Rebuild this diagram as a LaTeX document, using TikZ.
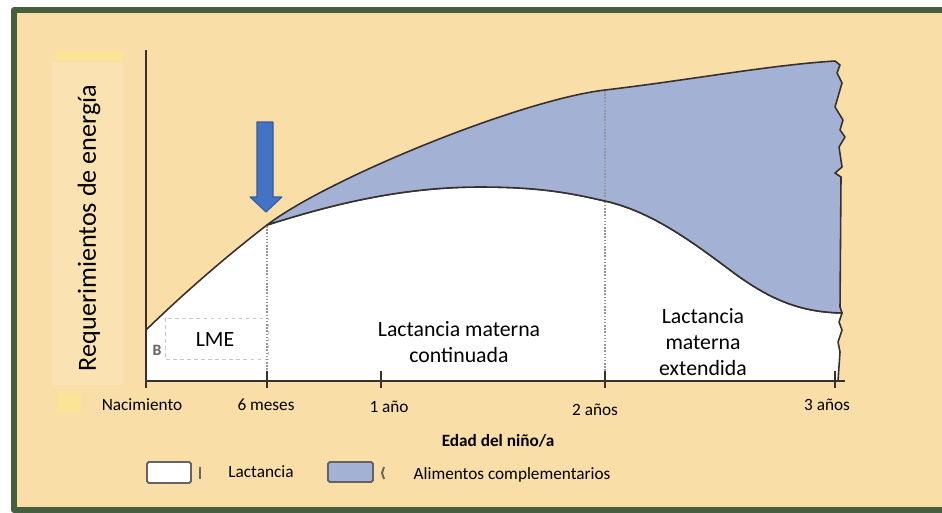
\documentclass[tikz,border=0pt]{standalone}
\usepackage{fontspec}
\setmainfont{Carlito}
\usepackage{xcolor}
\usetikzlibrary{calc}

\definecolor{fondo}{RGB}{250,222,168}
\definecolor{franja}{RGB}{251,226,178}
\definecolor{amarillo}{RGB}{252,228,150}
\definecolor{marco}{RGB}{70,95,62}
\definecolor{azulrelleno}{RGB}{163,178,212}
\definecolor{azulflecha}{RGB}{68,114,196}
\definecolor{bordeflecha}{RGB}{50,90,160}
\definecolor{ejes}{RGB}{55,48,45}
\definecolor{puntos}{RGB}{150,150,150}
\definecolor{gris}{RGB}{100,100,100}

\begin{document}
\begin{tikzpicture}[x=0.02cm, y=-0.02cm, inner sep=0pt, line join=round,
	eje/.style={draw=ejes, line width=1.4pt},
	curva/.style={draw=ejes, line width=0.9pt},
	guia/.style={draw=puntos, line width=0.9pt, dash pattern=on 0.9pt off 0.9pt},
	texto/.style={font=\fontsize{12.4}{14.6}\selectfont, align=center},
	etiqueta/.style={font=\fontsize{9.8}{11}\selectfont},
	leyenda/.style={draw=gris, line width=1.1pt, rounded corners=1pt}]

	\useasboundingbox (0,0) rectangle (942,512);
	\clip (0,0) rectangle (942,512);

	% fondo y marco
	\fill[fondo] (14,10) rectangle (942,510);
	\fill[franja] (52,62) rectangle (123,385);
	\fill[amarillo] (56,51) rectangle (123,61);
	\fill[amarillo] (57,393) rectangle (81,413);
	\draw[marco, line width=3.4pt] (942,10) -- (14,10) -- (14,510) -- (942,510);

	% zona de lactancia
	\filldraw[fill=white, curva] (146,381) -- (146,330)
		.. controls (185,292) and (228,255) .. (267,225)
		.. controls (330,205) and (400,187) .. (480,187)
		.. controls (540,187) and (570,193) .. (605,201)
		.. controls (650,211) and (690,240) .. (730,270)
		.. controls (770,300) and (800,312) .. (842,313)
		-- (839,322) -- (842,330) -- (838,342) -- (840,352) -- (838,381) -- cycle;

	% zona de alimentos complementarios
	\filldraw[fill=azulrelleno, curva] (267,225)
		.. controls (327,179) and (520,100) .. (605,90)
		.. controls (690,80) and (770,65) .. (835,61)
		-- (840,65) -- (837,73) -- (842,83) -- (835,107) -- (843,120) -- (840,130)
		-- (845,137) -- (839,147) -- (842,167) -- (835,173) -- (841,177) -- (840,307) -- (842,313)
		.. controls (800,312) and (770,300) .. (730,270)
		.. controls (690,240) and (650,211) .. (605,201)
		.. controls (570,193) and (540,187) .. (480,187)
		.. controls (400,187) and (330,205) .. (267,225) -- cycle;

	% recuadro LME
	\node[font=\bfseries\fontsize{9}{10}\selectfont, gris](b) at (157,350) {B};
	\draw[fill=white, draw=black!22, line width=0.4pt, dash pattern=on 2pt off 2pt] (165,318) rectangle (268,359);

	% lineas punteadas
	\coordinate (p6_start) at (267,226);
	\coordinate (p6_ende) at (267,381);
	\coordinate (p24_start) at (605,91);
	\coordinate (p24_ende) at (605,381);
	\draw[guia] (p6_start) -- (p6_ende);
	\draw[guia] (p24_start) -- (p24_ende);

	% ejes
	\coordinate (y_start) at (146,50);
	\coordinate (y_ende) at (146,388);
	\coordinate (x_start) at (146,381);
	\coordinate (x_ende) at (845,381);
	\draw[eje] (y_start) -- (y_ende);
	\draw[eje] (x_start) -- (x_ende);

	% marcas
	\draw[eje] (267,371) -- (267,388);
	\draw[eje] (381,371) -- (381,388);
	\draw[eje] (605,371) -- (605,388);
	\draw[eje] (835,371) -- (835,388);

	% flecha
	\filldraw[fill=azulflecha, draw=bordeflecha, line width=0.6pt]
		(257,122) -- (273,122) -- (273,197) -- (282,197) -- (266,212) -- (250,197) -- (257,197) -- cycle;

	% textos
	\node[texto](lme) at (215,339) {LME};
	\node[texto](continuada) at (459,342) {Lactancia materna\\continuada};
	\node[texto](extendida) at (703,342) {Lactancia\\materna\\extendida};
	\node[rotate=90, font=\fontsize{14.9}{16}\selectfont](requerimientos) at (89,228) {Requerimientos de energía};

	\node[etiqueta](nacimiento) at (142,405) {Nacimiento};
	\node[etiqueta](meses) at (266,405) {6 meses};
	\node[etiqueta](anio) at (389,407) {1 año};
	\node[etiqueta](dosanios) at (595,410) {2 años};
	\node[etiqueta](tresanios) at (827,405) {3 años};
	\node[etiqueta, font=\bfseries\fontsize{9.8}{11}\selectfont](edad) at (498,441) {Edad del niño/a};

	% leyenda
	\filldraw[leyenda, fill=white] (147,462) rectangle (191,483);
	\filldraw[leyenda, fill=azulrelleno] (328,462) rectangle (373,482);
	\draw[gris, line width=1.1pt] (200,467) -- (200,479);
	\draw[gris, line width=1.1pt] (384,467) -- (382,473) -- (384,479);
	\node[etiqueta](lactancia) at (261,472) {Lactancia};
	\node[etiqueta](alimentos) at (512,475) {Alimentos complementarios};

\end{tikzpicture}
\end{document}
